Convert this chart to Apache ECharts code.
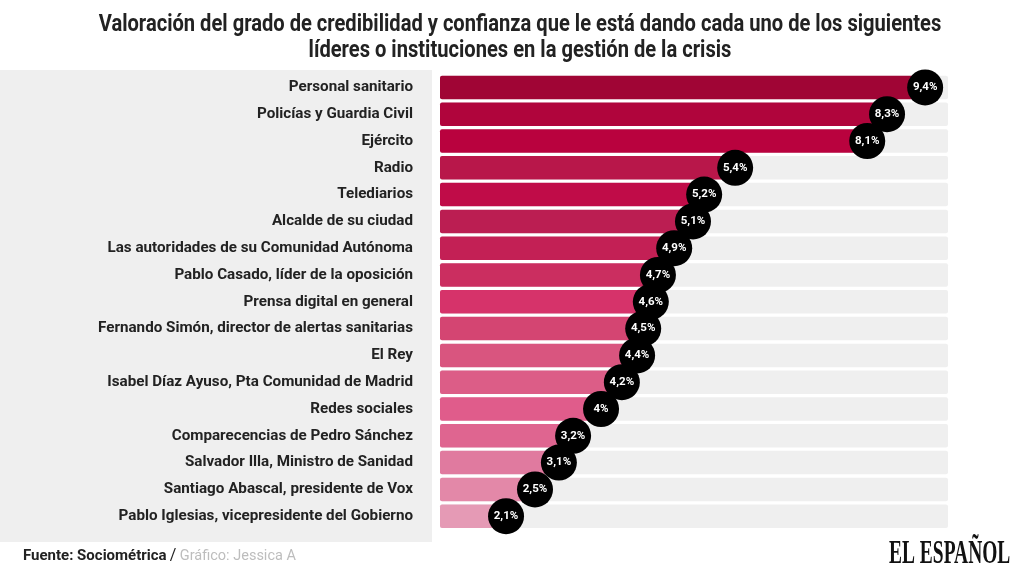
<!DOCTYPE html>
<html>
<head>
<meta charset="utf-8">
<style>
  html, body { margin: 0; padding: 0; background: #fff; }
  #chart { width: 1024px; height: 576px; }
</style>
</head>
<body>
<div id="chart"></div>
<script src="https://cdn.jsdelivr.net/npm/echarts@6/dist/echarts.min.js"></script>
<script>
var categories = [
  'Personal sanitario',
  'Policías y Guardia Civil',
  'Ejército',
  'Radio',
  'Telediarios',
  'Alcalde de su ciudad',
  'Las autoridades de su Comunidad Autónoma',
  'Pablo Casado, líder de la oposición',
  'Prensa digital en general',
  'Fernando Simón, director de alertas sanitarias',
  'El Rey',
  'Isabel Díaz Ayuso, Pta Comunidad de Madrid',
  'Redes sociales',
  'Comparecencias de Pedro Sánchez',
  'Salvador Illa, Ministro de Sanidad',
  'Santiago Abascal, presidente de Vox',
  'Pablo Iglesias, vicepresidente del Gobierno'
]
// printed values
var valueLabels = ['9,4%', '8,3%', '8,1%', '5,4%', '5,2%', '5,1%', '4,9%', '4,7%', '4,6%', '4,5%', '4,4%', '4,2%', '4%', '3,2%', '3,1%', '2,5%', '2,1%']
// bar lengths as drawn in the picture, on a 0-10 track (not proportional to the printed values)
var barLengths = [9.55, 8.8, 8.41, 5.81, 5.2, 4.98, 4.61, 4.29, 4.15, 4.0, 3.88, 3.58, 3.17, 2.62, 2.34, 1.87, 1.3]
var barColors = ['#a00535', '#b0053c', '#b9023e', '#b8174a', '#c00c48', '#bb1e52', '#c32055', '#cb2e60', '#d6336a', '#d44572', '#d9557f', '#dc5d87', '#e05c8b', '#df6590', '#e07a9f', '#e388a8', '#e59ab5']

var myChart = echarts.init(document.getElementById('chart'))
var option = {
  animation: false,
  backgroundColor: '#fff',
  grid: { left: 440, top: 74, width: 508, height: 455.6 },
  xAxis: { type: 'value', min: 0, max: 10, show: false },
  yAxis: {
    type: 'category',
    inverse: true,
    data: categories,
    axisLine: { show: false },
    axisTick: { show: false },
    axisLabel: {
      margin: 27,
      padding: [3, 0, 0, 0],
      color: '#222',
      fontFamily: 'Roboto',
      fontWeight: 'bold',
      fontSize: 15.2
    }
  },
  graphic: [
    { type: 'rect', z: -1, shape: { x: 0, y: 70, width: 432, height: 472 }, style: { fill: '#efefef' } },
    {
      type: 'text', x: 520, y: 14, scaleX: 0.875,
      style: { text: 'Valoración del grado de credibilidad y confianza que le está dando cada uno de los siguientes', font: 'bold 23px Roboto', fill: '#222', textAlign: 'center' }
    },
    {
      type: 'text', x: 520, y: 40, scaleX: 0.875,
      style: { text: 'líderes o instituciones en la gestión de la crisis', font: 'bold 23px Roboto', fill: '#222', textAlign: 'center' }
    },
    {
      type: 'text', x: 23, y: 548,
      style: {
        text: '{a|Fuente: Sociométrica} {b|/} {c|Gráfico: Jessica A}',
        rich: {
          a: { font: 'bold 15px Roboto', fill: '#222' },
          b: { font: '16px Roboto', fill: '#222' },
          c: { font: '14.5px Roboto', fill: '#bdbdbd' }
        }
      }
    },
    {
      type: 'text', x: 889, y: 538, scaleX: 0.59,
      style: { text: 'EL ESPAÑOL', font: 'bold 33px "Liberation Serif"', fill: '#111' }
    }
  ],
  series: [
    {
      type: 'bar',
      barWidth: 23.5,
      showBackground: true,
      backgroundStyle: { color: '#efefef', borderRadius: 2 },
      itemStyle: {
        borderRadius: 2,
        color: function (p) { return barColors[p.dataIndex] }
      },
      data: barLengths
    },
    {
      type: 'scatter',
      symbolSize: 36,
      clip: false,
      z: 3,
      itemStyle: { color: '#000', opacity: 1 },
      label: {
        show: true,
        position: 'inside',
        color: '#fff',
        fontFamily: 'Roboto',
        fontWeight: 'bold',
        fontSize: 11.5,
        formatter: function (p) { return valueLabels[p.dataIndex] }
      },
      data: barLengths.map(function (v, i) { return [v, categories[i]] })
    }
  ]
}
myChart.setOption(option)
</script>
</body>
</html>
